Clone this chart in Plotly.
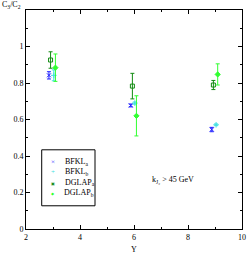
import plotly.graph_objects as go

x_bfkl_a = [2.85, 5.88, 8.88]
y_bfkl_a = [0.842, 0.677, 0.545]
e_bfkl_a = [0.02, 0.008, 0.012]

x_bfkl_b = [3.03, 6.03, 9.04]
y_bfkl_b = [0.842, 0.69, 0.571]
e_bfkl_b = [0.03, 0.006, 0.005]

x_dglap_a = [2.91, 5.94, 8.94]
y_dglap_a = [0.926, 0.783, 0.789]
e_dglap_a = [0.045, 0.07, 0.025]

x_dglap_b = [3.09, 6.09, 9.1]
y_dglap_b = [0.884, 0.62, 0.847]
e_dglap_b = [0.075, 0.11, 0.058]

names = ["BFKL<sub>a</sub>", "BFKL<sub>b</sub>", "DGLAP<sub>a</sub>", "DGLAP<sub>b</sub>"]
colors = ["#2020ff", "#40e0e0", "#108a10", "#30ff30"]
symbols = ["x-thin", "cross-thin", "square-open", "diamond"]
legend_glyphs = ["×", "+", "▣", "◆"]
glyph_sizes = [7, 7, 4, 4]

font = "Liberation Serif"
fig = go.Figure()

series = [(x_bfkl_a, y_bfkl_a, e_bfkl_a), (x_bfkl_b, y_bfkl_b, e_bfkl_b),
          (x_dglap_a, y_dglap_a, e_dglap_a), (x_dglap_b, y_dglap_b, e_dglap_b)]
for (x, y, e), name, color, symbol in zip(series, names, colors, symbols):
    fig.add_trace(go.Scatter(
        x=x, y=y, mode="markers", name=name, showlegend=False,
        marker=dict(color=color, symbol=symbol, size=4, line=dict(color=color, width=1)),
        error_y=dict(type="data", array=e, color=color, thickness=1, width=2),
    ))

axis_common = dict(
    showline=True, linecolor="black", linewidth=1, mirror="ticks",
    ticks="inside", ticklen=4, tickcolor="black", showgrid=False, zeroline=False,
    tickfont=dict(family=font, size=8, color="black"),
)
fig.update_xaxes(range=[2, 10], dtick=2, tick0=2,
                 minor=dict(ticks="inside", ticklen=2, dtick=1, tickcolor="black"),
                 **axis_common)
fig.update_yaxes(range=[0, 1.2], tickvals=[0, 0.2, 0.4, 0.6, 0.8, 1], ticktext=["0", "0.2", "0.4", "0.6", "0.8", "1"],
                 minor=dict(ticks="inside", ticklen=2, dtick=0.1, tickcolor="black"),
                 **axis_common)

fig.add_annotation(text="C<sub>3</sub>/C<sub>2</sub>", xref="paper", yref="paper",
                   x=-0.12, y=1.0, yshift=5, xanchor="left", yanchor="middle", showarrow=False,
                   font=dict(family=font, size=8, color="black"))
fig.add_annotation(text="Y", xref="paper", yref="paper",
                   x=0.5, y=0, yshift=-20, xanchor="center", yanchor="middle", showarrow=False,
                   font=dict(family=font, size=8, color="black"))
fig.add_annotation(text="k<sub>J₂</sub> > 45 GeV", x=7.45, y=0.27, xanchor="center", yanchor="middle",
                   showarrow=False, font=dict(family=font, size=8, color="black"))

# legend box
fig.add_shape(type="rect", xref="paper", yref="paper",
              x0=0.0727, x1=0.3195, y0=0.106, y1=0.3616,
              line=dict(color="black", width=1), fillcolor="white", layer="above")
legend_text = "<br>".join(
    f"<span style='color:{c};font-size:{s}px'>{g}</span>     {n}"
    for g, c, s, n in zip(legend_glyphs, colors, glyph_sizes, names)
)
fig.add_annotation(text=legend_text, xref="paper", yref="paper",
                   x=0.105, y=0.234, xanchor="left", yanchor="middle", align="left",
                   showarrow=False, font=dict(family=font, size=8, color="black"))

fig.update_layout(
    width=252, height=253,
    margin=dict(l=26, r=6, t=10, b=24),
    paper_bgcolor="white", plot_bgcolor="white",
    showlegend=False,
)

fig.write_html("out.html", config={"displayModeBar": False},
               post_script="document.body.style.margin='0';document.body.style.overflow='hidden';")
